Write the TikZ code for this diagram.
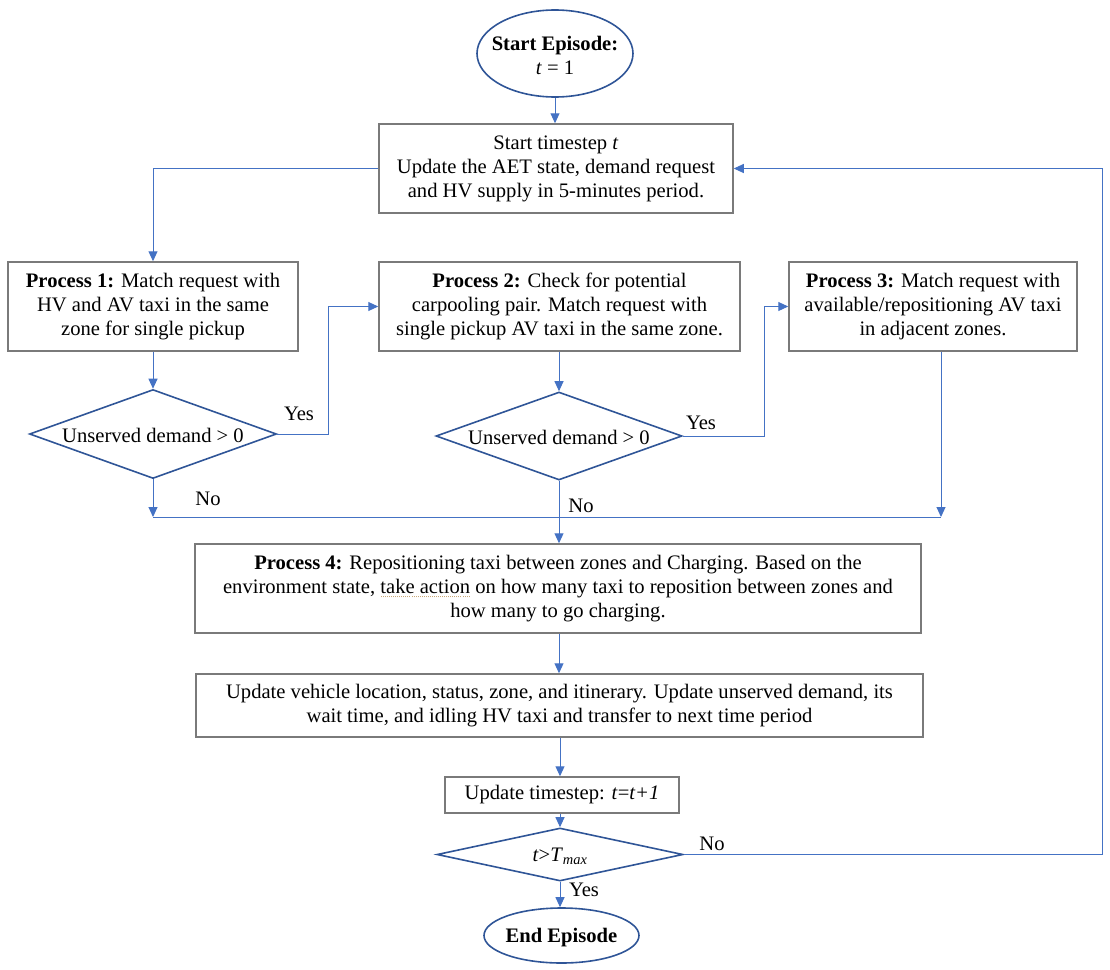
\documentclass[tikz,border=0pt]{standalone}
\usepackage{fontspec}
\setmainfont{Liberation Serif}
\usetikzlibrary{shapes.geometric,arrows.meta}
\definecolor{arr}{HTML}{4472C4}
\definecolor{dblue}{HTML}{2F5597}
\definecolor{boxgray}{HTML}{7A7A7A}
\definecolor{squig}{HTML}{C8A878}
\newsavebox\gbox
\newcommand\gram[1]{\sbox\gbox{#1}\rlap{\color{squig}\raisebox{-4pt}{\hbox to\wd\gbox{\xleaders\hbox to 2pt{\hss\rule{1pt}{1pt}\hss}\hfill}}}\usebox\gbox}
\begin{document}
\begin{tikzpicture}[x=1pt,y=-1pt,
  txt/.style={font=\fontsize{20.6}{24}\selectfont, inner sep=0pt, align=center},
  procbox/.style={txt, draw=boxgray, line width=1.5pt, rectangle},
  ovalshape/.style={draw=dblue, line width=1.6pt, ellipse, inner sep=0pt},
  decshape/.style={draw=dblue, line width=1.6pt, diamond, inner sep=0pt},
  conn/.style={draw=arr, line width=1pt},
  arrw/.style={conn, -{Triangle[length=10pt,width=9pt]}},
  lbl/.style={txt}
]
\useasboundingbox (0,0) rectangle (1110,969);

% start ellipse
\node[ovalshape, minimum width=156pt, minimum height=87pt] (s) at (555,53.5) {};
\node[txt] (stxt) at (555,55) {\textbf{Start Episode:}\\\textit{t} = 1};

% start timestep box
\node[procbox, minimum width=354pt, minimum height=89pt] (b0) at (556,168.5)
  {Start timestep \textit{t}\\Update the AET state, demand request\\and HV supply in 5-minutes period.};

% process boxes
\node[procbox, minimum width=290pt, minimum height=89pt] (p1) at (153,306.5)
  {\textbf{Process 1:} Match request with\\HV and AV taxi in the same\\zone for single pickup};
\node[procbox, minimum width=361pt, minimum height=89pt] (p2) at (559.5,306.5)
  {\textbf{Process 2:} Check for potential\\carpooling pair. Match request with\\single pickup AV taxi in the same zone.};
\node[procbox, minimum width=288pt, minimum height=89pt] (p3) at (933,306.5)
  {\textbf{Process 3:} Match request with\\available/repositioning AV taxi\\in adjacent zones.};

% decisions
\node[decshape, minimum width=247pt, minimum height=89pt] (d1) at (153,434) {};
\node[txt] (d1t) at (153,435) {Unserved demand > 0};
\node[decshape, minimum width=246pt, minimum height=88pt] (d2) at (559,436) {};
\node[txt] (d2t) at (559,437) {Unserved demand > 0};

% process 4
\node[procbox, minimum width=726pt, minimum height=89pt] (p4) at (558,588.5)
  {\textbf{Process 4:} Repositioning taxi between zones and Charging. Based on the\\environment state, \gram{take action} on how many taxi to reposition between zones and\\how many to go charging.};

% update box
\node[procbox, minimum width=727pt, minimum height=63pt] (up) at (559.5,705.5)
  {Update vehicle location, status, zone, and itinerary. Update unserved demand, its\\wait time, and idling HV taxi and transfer to next time period};

% timestep update
\node[procbox, minimum width=234pt, minimum height=36pt] (ts) at (562,795)
  {Update timestep: \textit{t}=\textit{t+1}};

% final decision
\node[decshape, minimum width=246pt, minimum height=53pt] (d3) at (560,854.5) {};
\node[txt] (d3t) at (560,856) {\textit{t}>\textit{T}\textsubscript{\textit{max}}};

% end ellipse
\node[ovalshape, minimum width=155pt, minimum height=55pt] (e) at (561.5,935.5) {};
\node[txt] (etxt) at (561.5,937.5) {\textbf{End Episode}};

% junction coordinates
\coordinate (j1) at (153,517);
\coordinate (j3) at (941,517);

% connectors
\draw[arrw] (s.south) -- (s.south|-b0.north);
\draw[arrw] (b0.west) -| (p1.north);
\draw[arrw] (p1.south) -- (d1.north);
\draw[arrw] (d1.east) -- ++(51,0) |- (p2.west);
\draw[arrw] (d1.south) -- (j1);
\draw[conn] (j1) -- (j3);
\draw[arrw] (p2.south-|d2.north) -- (d2.north);
\draw[arrw] (d2.east) -- ++(82,0) |- (p3.west);
\draw[arrw] (p3.south-|j3) -- (j3);
\draw[arrw] (d2.south) -- (d2.south|-p4.north);
\draw[arrw] (p4.south-|d2.south) -- (up.north-|d2.south);
\draw[arrw] (up.south-|d3.north) -- (ts.north-|d3.north);
\draw[arrw] (ts.south-|d3.north) -- (d3.north);
\draw[arrw] (d3.south) -- (d3.south|-e.north);
\draw[arrw] (d3.east) -- ++(419,0) |- (b0.east);

% labels
\node[lbl] (y1) at (299,414) {Yes};
\node[lbl] (n1) at (208,499) {No};
\node[lbl] (y2) at (701,423) {Yes};
\node[lbl] (n2) at (581,506) {No};
\node[lbl] (n3) at (712,844) {No};
\node[lbl] (y3) at (584,890) {Yes};
\end{tikzpicture}
\end{document}
